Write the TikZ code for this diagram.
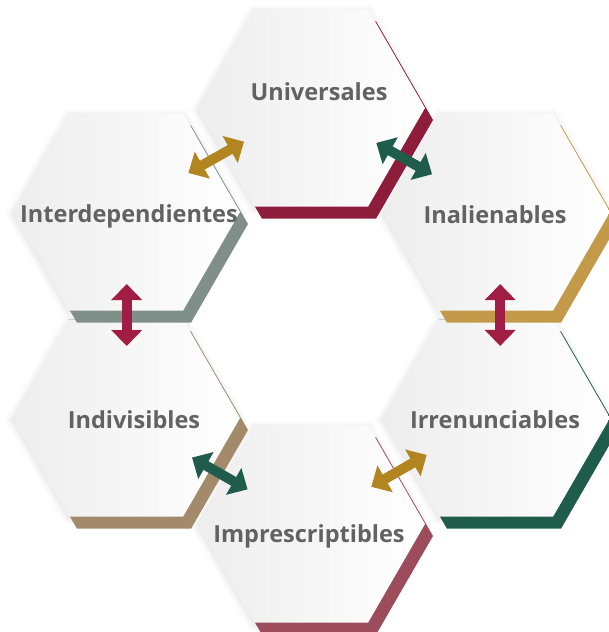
\documentclass[tikz,border=0pt]{standalone}
\usepackage{fontspec}
\setmainfont{Open Sans}
\usetikzlibrary{shapes.geometric}
\usetikzlibrary{arrows.meta}
\usetikzlibrary{shadows,shadows.blur}
\usetikzlibrary{calc}

\definecolor{vino}{HTML}{8E1C3B}
\definecolor{rojo}{HTML}{A01D43}
\definecolor{oro}{HTML}{B38521}
\definecolor{dorado}{HTML}{C29A49}
\definecolor{verde}{HTML}{1F5C4C}
\definecolor{gris}{HTML}{808F89}
\definecolor{arena}{HTML}{A38A6A}
\definecolor{rosa}{HTML}{9C4C5A}
\definecolor{gristexto}{HTML}{626262}

\begin{document}
\begin{tikzpicture}[x=1pt,y=-1pt]
\tikzstyle{hexagono}=[regular polygon,regular polygon sides=6,minimum size=228pt,inner sep=0pt,outer sep=0pt,
  blur shadow={shadow xshift=0pt,shadow yshift=-2pt,shadow blur radius=7pt,shadow opacity=14},
  left color=black!7,right color=white]
\tikzstyle{borde}=[general shadow={fill=#1,shadow xshift=8pt,shadow yshift=-12pt}]
\tikzstyle{texto}=[font=\bfseries\fontsize{23.5}{28}\selectfont,text=gristexto,anchor=base]
\tikzstyle{flecha}=[line width=10pt,{Triangle[width=30pt,length=16pt]}-{Triangle[width=30pt,length=16pt]}]

\useasboundingbox (0,0) rectangle (608,632);

\node[hexagono,borde=rosa] (impres) at (311,524) {};
\node[hexagono,borde=verde] (irren) at (496,418) {};
\node[hexagono,borde=arena] (indiv) at (126,418) {};
\node[hexagono,borde=dorado] (inal) at (496,212) {};
\node[hexagono,borde=gris] (inter) at (126,212) {};
\node[hexagono,borde=vino] (univ) at (311,108) {};

\node[texto] (t1) at (319,100) {Universales};
\node[texto] (t2) at (129,222) {Interdependientes};
\node[texto] (t3) at (495,223) {Inalienables};
\node[texto] (t4) at (134,428) {Indivisibles};
\node[texto] (t5) at (495,428) {Irrenunciables};
\node[texto] (t6) at (309,542) {Imprescriptibles};

\coordinate (m1) at ($(inter.center)!.5!(univ.center)+(-3,-4)$);
\coordinate (m2) at ($(univ.center)!.5!(inal.center)+(1,-2)$);
\coordinate (m3) at ($(inter.center)!.5!(indiv.center)+(1,0)$);
\coordinate (m4) at ($(inal.center)!.5!(irren.center)+(6,0)$);
\coordinate (m5) at ($(indiv.center)!.5!(impres.center)+(1,3)$);
\coordinate (m6) at ($(impres.center)!.5!(irren.center)+(-5,-1)$);

 \draw[flecha,draw=oro] ($(m1)!32pt!(inter.center)$) -- ($(m1)!32pt!(univ.center)$);
 \draw[flecha,draw=verde] ($(m2)!32pt!(univ.center)$) -- ($(m2)!32pt!(inal.center)$);
 \draw[flecha,draw=rojo] ($(m3)!31pt!(inter.center)$) -- ($(m3)!31pt!(indiv.center)$);
 \draw[flecha,draw=rojo] ($(m4)!31pt!(inal.center)$) -- ($(m4)!31pt!(irren.center)$);
 \draw[flecha,draw=verde] ($(m5)!32pt!(indiv.center)$) -- ($(m5)!32pt!(impres.center)$);
 \draw[flecha,draw=oro] ($(m6)!32pt!(impres.center)$) -- ($(m6)!32pt!(irren.center)$);
\end{tikzpicture}
\end{document}
